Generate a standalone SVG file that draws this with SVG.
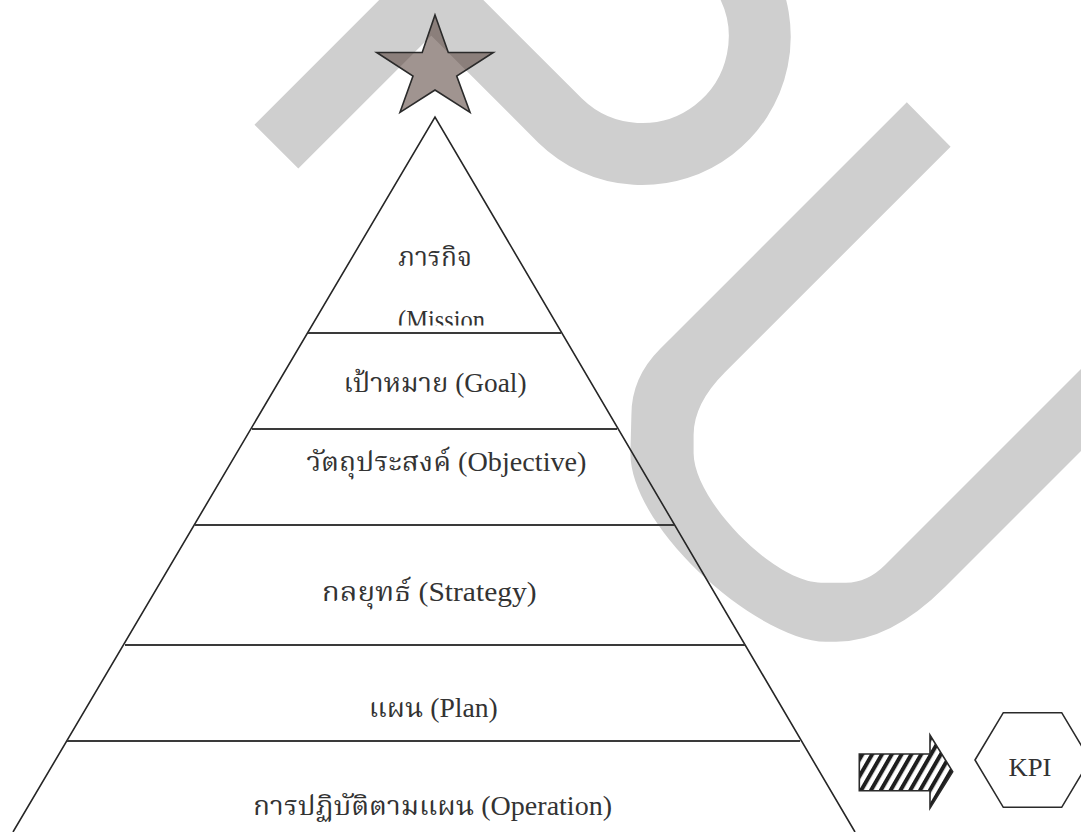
<svg xmlns="http://www.w3.org/2000/svg" width="1081" height="832" viewBox="0 0 1081 832">
  <style>
    .wm { fill: #cfcfcf; stroke: none; }
    .wms { fill: none; stroke: #cfcfcf; stroke-width: 62; stroke-linecap: butt; stroke-linejoin: miter; }
    .edge { fill: none; stroke: #262626; stroke-width: 1.6; }
    .tier { stroke: #3a3a3a; stroke-width: 2.2; }
    .lbl { font-family: "Liberation Serif", "Noto Serif Thai", "Noto Sans Thai", serif; font-size: 27px; fill: #333333; }
    .kpi { font-family: "Liberation Serif", serif; font-size: 25px; fill: #333333; }
  </style>
  <defs>
    <pattern id="hatch" patternUnits="userSpaceOnUse" width="8.5" height="8.5" patternTransform="rotate(30)">
      <rect x="0" y="0" width="8.5" height="8.5" fill="#ffffff"/>
      <rect x="0" y="0" width="4" height="8.5" fill="#1e1e1e"/>
    </pattern>
    <clipPath id="missionClip">
      <rect x="380" y="290" width="130" height="35.5"/>
    </clipPath>
  </defs>
  <rect x="0" y="0" width="1081" height="832" fill="#ffffff"/>

  <g id="watermark">
    <path class="wms" d="M 276.4,146.7 L 431.25,-8.25 L 560.25,120.75 A 117.5 117.5 0 0 0 744.8,-20.75"/>
    <path class="wm" d="M 906.8,102.3 L 950.6,146.7 L 725,372.3 Q 693.6,403.7 693.6,435 L 693.6,453 C 693.6,500 774,582.7 821.2,582.7 L 846,582.7 Q 867.3,582.7 885,565 L 1130,320 L 1130,402 L 945,587 Q 890.3,641.7 836,641.7 L 826,641.7 C 759.6,641.7 630.4,529.3 630.4,453.3 L 631.4,415 Q 631.4,377.7 660,349.1 Z"/>
  </g>

  <g id="star">
    <polygon points="435,15 448.3,52.5 493.3,52.5 456.7,76 470,112.3 435,90 400,112.3 413,76 376.7,52.5 422.2,52.5" fill="rgb(85,64,57)" fill-opacity="0.56" stroke="#2a2a2a" stroke-width="1.6" stroke-linejoin="miter"/>
  </g>

  <g id="pyramid">
    <polyline class="edge" points="13,832 435,117 855,832"/>
    <line class="tier" x1="308" y1="333" x2="561" y2="333"/>
    <line class="tier" x1="252" y1="429" x2="617" y2="429"/>
    <line class="tier" x1="195" y1="525" x2="674" y2="525"/>
    <line class="tier" x1="125" y1="645" x2="745" y2="645"/>
    <line class="tier" x1="67" y1="741" x2="800" y2="741"/>
  </g>

  <g id="tier-mission">
    <text class="lbl" x="398" y="266" textLength="74" lengthAdjust="spacingAndGlyphs">ภารกิจ</text>
    <text class="lbl" x="398" y="329" textLength="87" lengthAdjust="spacingAndGlyphs" clip-path="url(#missionClip)">(Mission</text>
  </g>
  <g id="tier-goal">
    <text class="lbl" x="343.5" y="392" textLength="183" lengthAdjust="spacingAndGlyphs">เป้าหมาย (Goal)</text>
  </g>
  <g id="tier-objective">
    <text class="lbl" x="306.5" y="471" textLength="280" lengthAdjust="spacingAndGlyphs">วัตถุประสงค์ (Objective)</text>
  </g>
  <g id="tier-strategy">
    <text class="lbl" x="321.7" y="601" textLength="215" lengthAdjust="spacingAndGlyphs">กลยุทธ์ (Strategy)</text>
  </g>
  <g id="tier-plan">
    <text class="lbl" x="368.8" y="717" textLength="129" lengthAdjust="spacingAndGlyphs">แผน (Plan)</text>
  </g>
  <g id="tier-operation">
    <text class="lbl" x="253" y="815" textLength="359" lengthAdjust="spacingAndGlyphs">การปฏิบัติตามแผน (Operation)</text>
  </g>

  <g id="connectors">
    <path d="M 859.3,754 L 930,754 L 930,735 L 952.7,771.7 L 930,808.3 L 930,790.7 L 859.3,790.7 Z" fill="url(#hatch)" stroke="#2a2a2a" stroke-width="1.6" stroke-linejoin="miter"/>
  </g>

  <g id="kpi">
    <polygon points="975,760 1003.3,712.7 1061.7,712.7 1090,760 1061.7,807.3 1003.3,807.3" fill="#ffffff" stroke="#2a2a2a" stroke-width="1.6"/>
    <text class="kpi" x="1008.5" y="776" textLength="43" lengthAdjust="spacingAndGlyphs">KPI</text>
  </g>
</svg>
